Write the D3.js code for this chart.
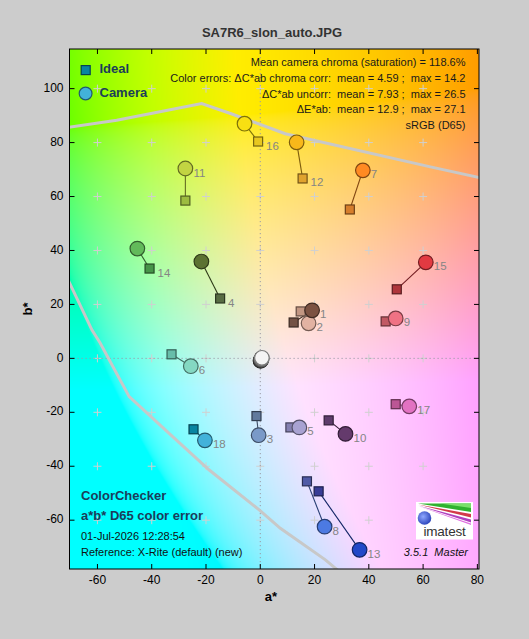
<!DOCTYPE html>
<html>
<head>
<meta charset="utf-8">
<script src="https://cdn.jsdelivr.net/npm/d3@7"></script>
<style>
  html, body { margin: 0; padding: 0; background: #cccccc; }
  svg { display: block; font-family: "Liberation Sans", Arial, Helvetica, sans-serif; }
  text { white-space: pre; }
</style>
</head>
<body>
<svg id="chart" width="529" height="639"></svg>
<script>
// ---------------- DATA ----------------
const patchIds   = [1,2,3,4,5,6,7,8,9,10,11,12,13,14,15,16,17,18,19,20,21,22,23,24];
const idealA     = [12.3,14.9,-1.4,-14.8,11.1,-32.7,33.0,17.2,46.2,25.2,-27.6,15.6,21.5,-40.8,50.3,-0.8,49.9,-24.6, 0.0,0.0,0.0,0.0,0.0,0.0];
const idealB     = [13.3,17.4,-21.4,22.2,-25.6,1.5,55.2,-45.6,13.7,-23.0,58.5,66.7,-49.3,33.3,25.6,80.4,-17.0,-26.3, 0.0,0.0,0.0,0.0,0.0,0.0];
const cameraA    = [19.1,17.8,-0.6,-21.7,14.4,-25.6,37.8,23.7,49.9,31.4,-27.6,13.4,36.6,-45.3,61.0,-5.8,54.9,-20.4, 0.6,0.5,0.4,0.3,0.2,0.1];
const cameraB    = [17.8,13.0,-28.5,35.9,-25.6,-2.9,69.7,-62.4,14.8,-28.0,70.4,80.1,-71.0,40.7,35.6,87.0,-17.8,-30.4, 0.2,-0.1,-0.35,-0.55,-0.75,-0.9];
const idealColor = ["#735244","#c29682","#627a9d","#576c43","#8580b1","#67bdaa","#d67e2c","#505ba6","#c15a63","#5e3c6c","#9dbc40","#e0a32e","#383d96","#469449","#af363c","#e7c71f","#bb5695","#0885a1","#f3f3f2","#c8c8c8","#a0a0a0","#7a7a79","#555555","#343434"];
const cameraColor= ["#7c5242","#e2b2a2","#7a9ac8","#5c7232","#a8a2d2","#84d8c2","#ff8a22","#4c7ae2","#f07284","#643a6c","#c2d442","#f8b81a","#2248c8","#62ba5a","#e23a42","#f8e012","#e272c2","#42b2da","#f4f4f4","#d2d2d2","#a8a8a8","#7c7c7c","#585858","#383838"];

// sRGB gamut boundary traces (a*, b*)
const gamutUpperA = [-71, -52.9, -21.6, -11.0, 9.2, 62.7, 81];
const gamutUpperB = [85.6, 88.3, 94.5, 90.8, 83.3, 71.0, 67.0];
const gamutLowerA = [-71, -62.0, -59.0, -48.3, -33.6, -18.8, -0.4, 7.4, 24.0, 28.5];
const gamutLowerB = [29.5, 10.5, 5.7, -14.2, -27.8, -41.4, -56.2, -63.0, -74.7, -78.5];

const xTicks = [-60,-40,-20,0,20,40,60,80];
const yTicks = [-60,-40,-20,0,20,40,60,80,100];
const gridA  = [-60,-40,-20,0,20,40,60];
const gridB  = [-60,-40,-20,0,20,40,60,80,100];

const titleText = "SA7R6_slon_auto.JPG";
const statLines = [
  "Mean camera chroma (saturation) = 118.6%",
  "Color errors: \u0394C*ab chroma corr:  mean = 4.59 ;  max = 14.2",
  "\u0394C*ab uncorr:  mean = 7.93 ;  max = 26.5",
  "\u0394E*ab:  mean = 12.9 ;  max = 27.1",
  "sRGB (D65)"
];
const infoBold = ["ColorChecker", "a*b* D65 color error"];
const infoText = ["01-Jul-2026 12:28:54", "Reference: X-Rite (default) (new)"];
const legendLabels = ["Ideal", "Camera"];

// ---------------- LAYOUT ----------------
const svg = d3.select("#chart");
const L = 69.5, R = 479, T = 49, B = 569;
const x = d3.scaleLinear().domain([-70.3, 80.6]).range([L, R]);
const y = d3.scaleLinear().domain([-78.1, 114.7]).range([B, T]);

// ---------------- BACKGROUND (a*b* colour field, L* fixed, sRGB clipped) ----------------
const W = Math.round(R - L), H = Math.round(B - T);
const cv = document.createElement("canvas");
cv.width = W; cv.height = H;
const ctx = cv.getContext("2d");
const img = ctx.createImageData(W, H);
const clamp = v => Math.max(0, Math.min(255, v));
for (let j = 0; j < H; j++) {
  const bv = y.invert(T + j + 0.5);
  for (let i = 0; i < W; i++) {
    const av = x.invert(L + i + 0.5);
    const c = d3.rgb(d3.lab(93, av, bv));
    const k = (j * W + i) * 4;
    img.data[k] = clamp(c.r); img.data[k+1] = clamp(c.g); img.data[k+2] = clamp(c.b); img.data[k+3] = 255;
  }
}
ctx.putImageData(img, 0, 0);

const defs = svg.append("defs");
defs.append("clipPath").attr("id", "plotclip")
  .append("rect").attr("x", L).attr("y", T).attr("width", R - L).attr("height", B - T);

svg.append("image")
  .attr("x", L).attr("y", T).attr("width", R - L).attr("height", B - T)
  .attr("preserveAspectRatio", "none")
  .attr("href", cv.toDataURL());

const plot = svg.append("g").attr("clip-path", "url(#plotclip)");

// grid crosses
const crosses = [];
gridA.forEach(a => gridB.forEach(b => crosses.push([a, b])));
plot.append("g").selectAll("path").data(crosses).join("path")
  .attr("d", d => `M${x(d[0]) - 4},${y(d[1])}h8M${x(d[0])},${y(d[1]) - 4}v8`)
  .attr("stroke", "#d0d0d0").attr("stroke-width", 1).attr("fill", "none");

// dotted zero axes
plot.append("line").attr("x1", x(0)).attr("x2", x(0)).attr("y1", T).attr("y2", B)
  .attr("stroke", "#9a9aa6").attr("stroke-width", 1).attr("stroke-dasharray", "1.2,2.8");
plot.append("line").attr("x1", L).attr("x2", R).attr("y1", y(0)).attr("y2", y(0))
  .attr("stroke", "#9a9aa6").attr("stroke-width", 1).attr("stroke-dasharray", "1.2,2.8");

// gamut lines
const gl = d3.line().x(d => x(d[0])).y(d => y(d[1]));
plot.append("path").attr("d", gl(gamutUpperA.map((a, i) => [a, gamutUpperB[i]])))
  .attr("fill", "none").attr("stroke", "#c8c8c8").attr("stroke-width", 3);
plot.append("path").attr("d", gl(gamutLowerA.map((a, i) => [a, gamutLowerB[i]])))
  .attr("fill", "none").attr("stroke", "#c8c8c8").attr("stroke-width", 3);

// ---------------- PATCHES ----------------
const patches = patchIds.map((id, i) => ({
  id, ia: idealA[i], ib: idealB[i], ca: cameraA[i], cb: cameraB[i],
  ic: idealColor[i], cc: cameraColor[i], gray: id > 18
}));
const dark = c => d3.rgb(c).darker(1.9).formatHex();

plot.append("g").selectAll("line").data(patches.filter(p => !p.gray)).join("line")
  .attr("x1", p => x(p.ia)).attr("y1", p => y(p.ib))
  .attr("x2", p => x(p.ca)).attr("y2", p => y(p.cb))
  .attr("stroke", p => dark(p.cc)).attr("stroke-width", 1.1);

const sq = 9;
plot.append("g").selectAll("rect").data(patches.slice().reverse()).join("rect")
  .attr("x", p => x(p.ia) - sq / 2).attr("y", p => y(p.ib) - sq / 2)
  .attr("width", sq).attr("height", sq)
  .attr("fill", p => p.ic).attr("stroke", p => dark(p.ic)).attr("stroke-width", 1.2);

plot.append("g").selectAll("circle").data(patches.slice().reverse()).join("circle")
  .attr("cx", p => x(p.ca)).attr("cy", p => y(p.cb)).attr("r", 7.3)
  .attr("fill", p => p.cc).attr("stroke", p => dark(p.cc)).attr("stroke-width", 1.2);

plot.append("g").selectAll("text").data(patches.filter(p => !p.gray)).join("text")
  .attr("x", p => (p.ca >= p.ia ? x(p.ca) : x(p.ia)) + 8)
  .attr("y", p => (p.ca >= p.ia ? y(p.cb) : y(p.ib)) + 5)
  .attr("dominant-baseline", "middle")
  .attr("font-size", 11.5).attr("fill", "#858585")
  .text(p => p.id);

// ---------------- FRAME & AXES ----------------
svg.append("rect").attr("x", L).attr("y", T).attr("width", R - L).attr("height", B - T)
  .attr("fill", "none").attr("stroke", "#000").attr("stroke-width", 1);

const tk = 5;
const tg = svg.append("g").attr("stroke", "#000").attr("stroke-width", 1);
xTicks.forEach(v => {
  tg.append("line").attr("x1", x(v)).attr("x2", x(v)).attr("y1", B).attr("y2", B - tk);
  tg.append("line").attr("x1", x(v)).attr("x2", x(v)).attr("y1", T).attr("y2", T + tk);
});
yTicks.forEach(v => {
  tg.append("line").attr("x1", L).attr("x2", L + tk).attr("y1", y(v)).attr("y2", y(v));
  tg.append("line").attr("x1", R).attr("x2", R - tk).attr("y1", y(v)).attr("y2", y(v));
});

svg.append("g").selectAll("text").data(xTicks).join("text")
  .attr("x", d => x(d)).attr("y", B + 12).attr("text-anchor", "middle")
  .attr("dominant-baseline", "middle").attr("font-size", 12).attr("fill", "#000")
  .text(d => d);
svg.append("g").selectAll("text").data(yTicks).join("text")
  .attr("x", L - 6).attr("y", d => y(d)).attr("text-anchor", "end")
  .attr("dominant-baseline", "middle").attr("font-size", 12).attr("fill", "#000")
  .text(d => d);

svg.append("text").attr("x", 271).attr("y", 598).attr("text-anchor", "middle")
  .attr("dominant-baseline", "middle").attr("font-size", 13).attr("font-weight", "bold")
  .attr("fill", "#000").text("a*");
svg.append("text").attr("transform", "translate(29,309) rotate(-90)")
  .attr("text-anchor", "middle").attr("dominant-baseline", "middle")
  .attr("font-size", 13).attr("font-weight", "bold").attr("fill", "#000").text("b*");

svg.append("text").attr("x", 272).attr("y", 34).attr("text-anchor", "middle")
  .attr("dominant-baseline", "middle").attr("font-size", 13).attr("font-weight", "bold")
  .attr("fill", "#333").text(titleText);

// ---------------- LEGEND ----------------
svg.append("rect").attr("x", 81.2).attr("y", 65.6).attr("width", 9).attr("height", 9)
  .attr("fill", "#0885a1").attr("stroke", dark("#0885a1")).attr("stroke-width", 1.2);
svg.append("circle").attr("cx", 85.6).attr("cy", 93.5).attr("r", 6.4)
  .attr("fill", "#42b2da").attr("stroke", dark("#42b2da")).attr("stroke-width", 1.2);
svg.append("g").selectAll("text").data(legendLabels).join("text")
  .attr("x", 99.5).attr("y", (d, i) => 69.5 + i * 24.2)
  .attr("dominant-baseline", "middle").attr("font-size", 13).attr("font-weight", "bold")
  .attr("fill", "#1b3d5a").text(d => d);

// ---------------- STAT TEXT ----------------
svg.append("g").selectAll("text").data(statLines).join("text")
  .attr("x", 465.5).attr("y", (d, i) => 63.5 + i * 15.6)
  .attr("text-anchor", "end").attr("dominant-baseline", "middle")
  .attr("font-size", 11).attr("fill", "#1a1a1a").text(d => d);

svg.append("g").selectAll("text").data(infoBold).join("text")
  .attr("x", 81).attr("y", (d, i) => 496.8 + i * 20)
  .attr("dominant-baseline", "middle").attr("font-size", 13).attr("font-weight", "bold")
  .attr("fill", "#1b3d5a").text(d => d);
svg.append("g").selectAll("text").data(infoText).join("text")
  .attr("x", 81).attr("y", (d, i) => 537.4 + i * 15.4)
  .attr("dominant-baseline", "middle").attr("font-size", 11).attr("fill", "#111").text(d => d);

// ---------------- LOGO ----------------
const lg = svg.append("g");
lg.append("rect").attr("x", 416).attr("y", 502).attr("width", 57).attr("height", 37.5).attr("fill", "#fff");
lg.append("path").attr("d", "M418,503.5 L471,503.5 L471,512 Z").attr("fill", "#2fb22f");
lg.append("path").attr("d", "M440,503.5 L471,503.5 L471,508 Z").attr("fill", "#7be06b");
lg.append("path").attr("d", "M418,504.5 L471,514 L471,517.5 Z").attr("fill", "#d23a4a");
lg.append("path").attr("d", "M418,505.5 L471,519.5 L471,522.5 Z").attr("fill", "#b040c0");
lg.append("path").attr("d", "M418,506 L471,523.5 L471,525 Z").attr("fill", "#e070e0");
const rg = defs.append("radialGradient").attr("id", "ball").attr("cx", "40%").attr("cy", "40%").attr("r", "65%");
rg.append("stop").attr("offset", "0%").attr("stop-color", "#8fa8ff");
rg.append("stop").attr("offset", "100%").attr("stop-color", "#2840b8");
lg.append("circle").attr("cx", 424.5).attr("cy", 518).attr("r", 6.8).attr("fill", "url(#ball)");
lg.append("text").attr("x", 444.5).attr("y", 532.5).attr("text-anchor", "middle")
  .attr("dominant-baseline", "middle").attr("font-size", 13.5).attr("fill", "#333")
  .attr("letter-spacing", "-0.2").text("imatest");
svg.append("text").attr("x", 468).attr("y", 553).attr("text-anchor", "end")
  .attr("dominant-baseline", "middle").attr("font-size", 11).attr("font-style", "italic")
  .attr("fill", "#111").text("3.5.1  Master");
</script>
</body>
</html>
